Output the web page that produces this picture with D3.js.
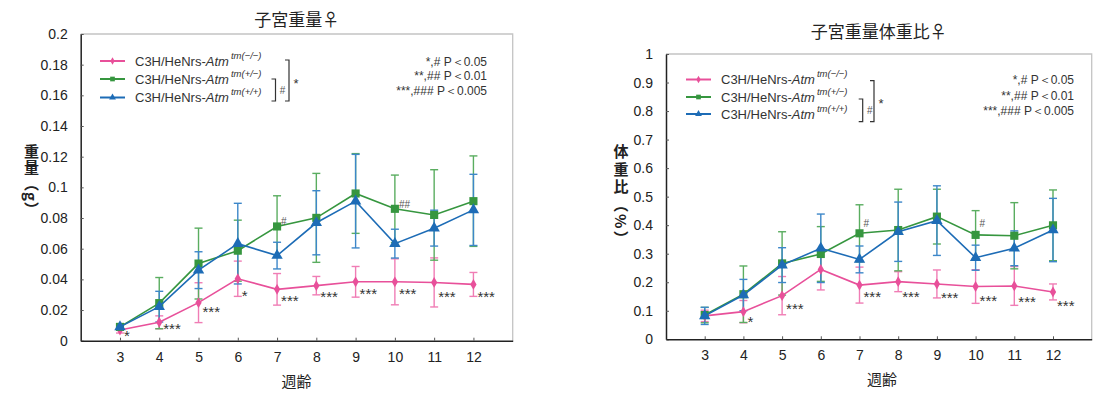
<!DOCTYPE html>
<html>
<head>
<meta charset="utf-8">
<script src="https://cdn.jsdelivr.net/npm/d3@7"></script>
<style>
  body { margin: 0; background: #fff; }
  text { font-family: "Liberation Sans", Arial, sans-serif; }
  .jp { font-family: "Noto Sans CJK JP", sans-serif; }
</style>
</head>
<body>
<svg id="chart"></svg>
<script>
const width = 1103;
const height = 393;

// weeks of age
const weeks = [3, 4, 5, 6, 7, 8, 9, 10, 11, 12];
const genotypes = ['(−/−)', '(+/−)', '(+/+)'];

// uterus weight (g): mean and SD
const wtKO    = [0.007, 0.012, 0.0248, 0.0404, 0.0335, 0.0359, 0.0384, 0.0384, 0.038, 0.0367];
const wtKOsd  = [0.002, 0.0042, 0.013, 0.0115, 0.0103, 0.006, 0.01, 0.015, 0.016, 0.0078];
const wtHet   = [0.009, 0.0245, 0.0503, 0.0587, 0.0745, 0.0801, 0.096, 0.086, 0.082, 0.091];
const wtHetSd = [0.002, 0.0167, 0.0231, 0.0199, 0.02, 0.029, 0.026, 0.022, 0.0295, 0.0295];
const wtWT    = [0.009, 0.0222, 0.046, 0.0633, 0.0555, 0.0769, 0.091, 0.0633, 0.0734, 0.0853];
const wtWTsd  = [0.002, 0.01, 0.012, 0.0263, 0.0087, 0.0209, 0.0305, 0.0094, 0.0117, 0.0232];

// uterus weight / body weight (%): mean and SD
const rKO    = [0.082, 0.097, 0.153, 0.245, 0.19, 0.202, 0.194, 0.185, 0.187, 0.166];
const rKOsd  = [0.02, 0.039, 0.067, 0.072, 0.063, 0.035, 0.049, 0.059, 0.068, 0.028];
const rHet   = [0.085, 0.158, 0.266, 0.299, 0.3715, 0.383, 0.43, 0.366, 0.363, 0.3995];
const rHetSd = [0.027, 0.099, 0.111, 0.096, 0.1, 0.143, 0.096, 0.085, 0.116, 0.124];
const rWT    = [0.082, 0.155, 0.26, 0.319, 0.28, 0.377, 0.416, 0.286, 0.319, 0.383];
const rWTsd  = [0.03, 0.055, 0.061, 0.12, 0.047, 0.104, 0.122, 0.044, 0.061, 0.111];

// significance marks: [week, value where the mark sits, text]
const wtStars  = [[3, 0.0052, '*'], [4, 0.0096, '***'], [5, 0.0207, '***'], [6, 0.0311, '*'], [7, 0.028, '***'],
                  [8, 0.0305, '***'], [9, 0.0326, '***'], [10, 0.0326, '***'], [11, 0.0305, '***'], [12, 0.0305, '***']];
const wtHashes = [[7, 0.0783, '#'], [10, 0.089, '##']];
const rStars   = [[4, 0.07, '*'], [5, 0.117, '***'], [7, 0.159, '***'], [8, 0.159, '***'], [9, 0.155, '***'],
                  [10, 0.144, '***'], [11, 0.14, '***'], [12, 0.128, '***']];
const rHashes  = [[7, 0.4065, '#'], [10, 0.4065, '#']];

const notes = ['*,# P＜0.05', '**,## P＜0.01', '***,### P＜0.005'];

const wtTicks = [0, 0.02, 0.04, 0.06, 0.08, 0.1, 0.12, 0.14, 0.16, 0.18, 0.2];
const rTicks  = [0, 0.1, 0.2, 0.3, 0.4, 0.5, 0.6, 0.7, 0.8, 0.9, 1];

const styles = [
  { line: '#e8509a', bar: '#f07db5', symbol: d3.symbolDiamond, size: 34, legSize: 16 },
  { line: '#36963f', bar: '#5aad60', symbol: d3.symbolSquare,  size: 66, legSize: 22 },
  { line: '#1d6cb6', bar: '#3d87c9', symbol: d3.symbolTriangle, size: 56, legSize: 20 }
];

const svg = d3.select('#chart').attr('width', width).attr('height', height);

function drawPanel(o) {
  const g = svg.append('g');
  const x = d3.scaleLinear().domain([2, 13]).range([o.left, o.right]);
  const y = d3.scaleLinear().domain([0, o.yMax]).range([o.bottom, o.top]);

  // frame
  g.append('path').attr('d', `M${o.left},${o.top}H${o.right}V${o.bottom}`)
    .attr('fill', 'none').attr('stroke', '#c4c4c4').attr('stroke-width', 1.3);

  const yAxis = g.append('g').attr('transform', `translate(${o.left},0)`)
    .call(d3.axisLeft(y).tickValues(o.ticks).tickSizeInner(-3).tickSizeOuter(0).tickPadding(13)
      .tickFormat(d => String(+d.toFixed(2))));
  const xAxis = g.append('g').attr('transform', `translate(0,${o.bottom})`)
    .call(d3.axisBottom(x).tickValues(weeks).tickSizeInner(-3).tickSizeOuter(0).tickPadding(11));
  [yAxis, xAxis].forEach(a => {
    a.select('.domain').attr('stroke', '#222').attr('stroke-width', 1.5);
    a.selectAll('.tick line').attr('stroke', '#555');
    a.selectAll('text').attr('font-size', 14).attr('fill', '#222')
      .attr('font-family', '"Liberation Sans", Arial, sans-serif');
  });

  // error bars
  o.series.forEach((s, i) => {
    const st = styles[i];
    const eb = g.append('g').attr('stroke', st.bar).attr('stroke-width', 1.4);
    weeks.forEach((w, j) => {
      const cx = x(w), hi = y(s.mean[j] + s.sd[j]), lo = y(Math.max(0, s.mean[j] - s.sd[j]));
      eb.append('line').attr('x1', cx).attr('x2', cx).attr('y1', hi).attr('y2', lo);
      eb.append('line').attr('x1', cx - 4).attr('x2', cx + 4).attr('y1', hi).attr('y2', hi);
      eb.append('line').attr('x1', cx - 4).attr('x2', cx + 4).attr('y1', lo).attr('y2', lo);
    });
  });

  // lines and markers
  o.series.forEach((s, i) => {
    const st = styles[i];
    const pts = weeks.map((w, j) => [w, s.mean[j]]);
    g.append('path').datum(pts)
      .attr('fill', 'none').attr('stroke', st.line).attr('stroke-width', 1.6)
      .attr('d', d3.line().x(d => x(d[0])).y(d => y(d[1])));
    g.append('g').selectAll('path').data(pts).enter().append('path')
      .attr('transform', d => `translate(${x(d[0])},${y(d[1])})`)
      .attr('d', d3.symbol().type(st.symbol).size(st.size))
      .attr('fill', st.line);
  });

  // significance marks
  g.append('g').selectAll('text').data(o.stars).enter().append('text')
    .attr('x', d => x(d[0]) + 4).attr('y', d => y(d[1]) + 8)
    .attr('font-size', 15).attr('fill', '#333').text(d => d[2]);
  g.append('g').selectAll('text').data(o.hashes).enter().append('text')
    .attr('x', d => x(d[0]) + 4).attr('y', d => y(d[1]) + 4)
    .attr('font-size', 10).attr('fill', '#555').text(d => d[2]);

  // title and axis titles
  g.append('text').attr('class', 'jp').attr('x', (o.left + o.right) / 2).attr('y', o.titleY)
    .attr('text-anchor', 'middle').attr('dominant-baseline', 'central')
    .attr('font-size', 17).attr('fill', '#222').text(o.title);
  g.append('text').attr('class', 'jp').attr('x', o.xTitleX).attr('y', o.xTitleY)
    .attr('text-anchor', 'middle').attr('dominant-baseline', 'central')
    .attr('font-size', 15).attr('fill', '#222').text('週齢');
  g.append('text').attr('class', 'jp').attr('x', o.yTitleX).attr('y', o.yTitleTop)
    .style('writing-mode', 'vertical-rl').style('letter-spacing', o.yTitleSpacing + 'px')
    .attr('font-size', 15).attr('font-weight', 'bold').attr('fill', '#222').text(o.yTitle);

  // legend
  const lg = g.append('g');
  genotypes.forEach((gt, i) => {
    const st = styles[i], ly = o.legRows[i];
    lg.append('line').attr('x1', o.legX).attr('x2', o.legX + 25).attr('y1', ly).attr('y2', ly)
      .attr('stroke', st.line).attr('stroke-width', 2);
    lg.append('path').attr('transform', `translate(${o.legX + 12.5},${ly})`)
      .attr('d', d3.symbol().type(st.symbol).size(st.legSize)).attr('fill', st.line);
    const t = lg.append('text').attr('x', o.legX + 35).attr('y', ly + 4.5)
      .attr('font-size', 13).attr('fill', '#333');
    t.append('tspan').text('C3H/HeNrs-');
    t.append('tspan').attr('font-style', 'italic').text('Atm');
    t.append('tspan').attr('font-style', 'italic').attr('font-size', 9.5).attr('dx', 2).attr('dy', -7).text('tm' + gt);
  });
  const b = o.brackets;
  lg.append('path').attr('d', `M${b.inX - 4},${b.inTop}H${b.inX}V${b.bot}H${b.inX - 4}`)
    .attr('fill', 'none').attr('stroke', '#333').attr('stroke-width', 1.2);
  lg.append('path').attr('d', `M${b.outX - 4},${b.outTop}H${b.outX}V${b.bot}H${b.outX - 4}`)
    .attr('fill', 'none').attr('stroke', '#333').attr('stroke-width', 1.2);
  lg.append('text').attr('x', b.inX + 7).attr('y', (b.inTop + b.bot) / 2 + 3.5)
    .attr('text-anchor', 'middle').attr('font-size', 10).attr('fill', '#555').text('#');
  lg.append('text').attr('x', b.outX + 7).attr('y', (b.outTop + b.bot) / 2 + 7)
    .attr('text-anchor', 'middle').attr('font-size', 13).attr('fill', '#333').text('*');

  // p-value notes
  notes.forEach((n, k) => {
    g.append('text').attr('x', o.noteX).attr('y', o.noteRows[k]).attr('dominant-baseline', 'central')
      .attr('text-anchor', 'end').attr('font-size', 12).attr('fill', '#333').text(n);
  });
}

drawPanel({
  left: 80.7, right: 512.7, top: 34, bottom: 340.7, yMax: 0.2, ticks: wtTicks,
  series: [{ mean: wtKO, sd: wtKOsd }, { mean: wtHet, sd: wtHetSd }, { mean: wtWT, sd: wtWTsd }],
  stars: wtStars, hashes: wtHashes,
  title: '子宮重量♀', titleY: 18.5, xTitleX: 296.5, xTitleY: 380,
  yTitle: '重量（g）', yTitleX: 31.5, yTitleTop: 144, yTitleSpacing: 1,
  legX: 100, legRows: [61, 79, 97.5],
  brackets: { inX: 275.5, inTop: 79, outX: 289, outTop: 60, bot: 101 },
  noteX: 487, noteRows: [61.7, 76, 90.7]
});

drawPanel({
  left: 666, right: 1091.7, top: 54, bottom: 339.3, yMax: 1, ticks: rTicks,
  series: [{ mean: rKO, sd: rKOsd }, { mean: rHet, sd: rHetSd }, { mean: rWT, sd: rWTsd }],
  stars: rStars, hashes: rHashes,
  title: '子宮重量体重比♀', titleY: 30, xTitleX: 882, xTitleY: 378,
  yTitle: '体重比（%）', yTitleX: 621, yTitleTop: 144, yTitleSpacing: 2.5,
  legX: 686, legRows: [79.5, 97, 114],
  brackets: { inX: 862.7, inTop: 99, outX: 874, outTop: 80.7, bot: 121.7 },
  noteX: 1074, noteRows: [80, 95.7, 111]
});
</script>
</body>
</html>
